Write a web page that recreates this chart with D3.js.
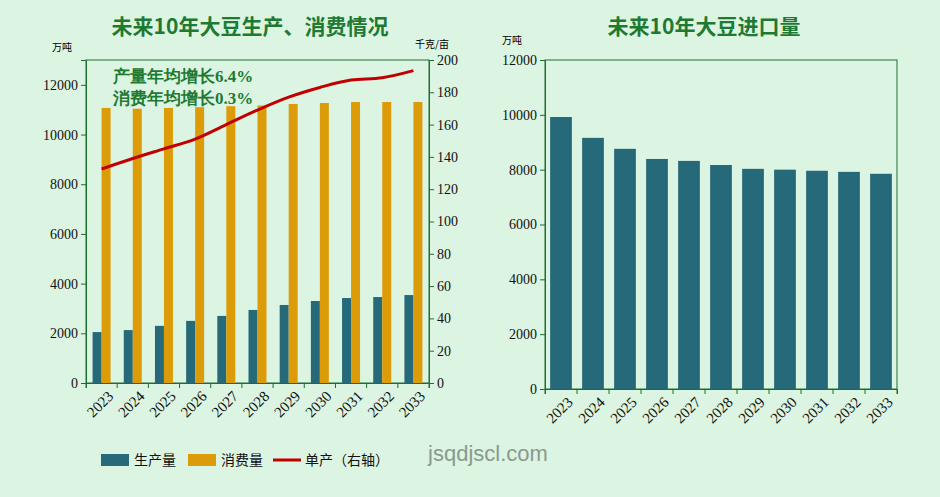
<!DOCTYPE html>
<html><head><meta charset="utf-8">
<script src="https://cdn.jsdelivr.net/npm/d3@7"></script>
<style>body{margin:0;background:#dcf4e2}svg{display:block}</style>
</head><body><svg id="c" width="940" height="497"></svg>
<script>
const years=["2023","2024","2025","2026","2027","2028","2029","2030","2031","2032","2033"];
const production=[2050,2130,2300,2500,2700,2940,3140,3300,3420,3460,3540];
const consumption=[11070,11040,11070,11100,11140,11170,11230,11270,11310,11310,11310];
const yieldPerMu=[132.5,139,145,151,160,169,177,183,187.6,189,193.4];
const imports=[9920,9160,8760,8390,8320,8170,8030,8000,7960,7920,7850];
const leftTicks=[0,2000,4000,6000,8000,10000,12000];
const rightTicks=[0,20,40,60,80,100,120,140,160,180,200];

const svg=d3.select("#c");
svg.append("rect").attr("width",940).attr("height",497).attr("fill","#dcf4e2");
const serif="'Liberation Serif','DejaVu Serif',serif";
const cjk="'Noto Sans CJK SC',sans-serif";
const green="#1e7a32", axisC="#1e6e2e", teal="#266a7a", gold="#dc9c0a", red="#c00000";

function styleAxis(g,fs){g.selectAll("path,line").attr("stroke",axisC);g.selectAll("text").attr("font-family",serif).attr("font-size",fs||14).attr("fill","#111");}

// Left chart
const L={x0:86,x1:429,y0:383,y1:60};
const xL=d3.scaleBand().domain(years).range([L.x0,L.x1]);
const yL=d3.scaleLinear().domain([0,13000]).range([L.y0,L.y1]);
const yR=d3.scaleLinear().domain([0,200]).range([L.y0,L.y1]);
svg.append("rect").attr("x",L.x0).attr("y",L.y1).attr("width",L.x1-L.x0).attr("height",L.y0-L.y1).attr("fill","none").attr("stroke",axisC);
const bw=9;
svg.selectAll(".p").data(years).enter().append("rect").attr("x",d=>xL(d)+xL.bandwidth()/2-bw).attr("width",bw)
 .attr("y",(d,i)=>yL(production[i])).attr("height",(d,i)=>L.y0-yL(production[i])).attr("fill",teal);
svg.selectAll(".c").data(years).enter().append("rect").attr("x",d=>xL(d)+xL.bandwidth()/2).attr("width",bw)
 .attr("y",(d,i)=>yL(consumption[i])).attr("height",(d,i)=>L.y0-yL(consumption[i])).attr("fill",gold);
svg.append("path").datum(yieldPerMu).attr("fill","none").attr("stroke",red).attr("stroke-width",3)
 .attr("d",d3.line().x((d,i)=>xL(years[i])+xL.bandwidth()/2).y(d=>yR(d)).curve(d3.curveMonotoneX));
let g=svg.append("g").attr("transform",`translate(${L.x0},0)`).call(d3.axisLeft(yL).tickValues(leftTicks).tickSize(5).tickFormat(d3.format("d")));styleAxis(g);
g=svg.append("g").attr("transform",`translate(${L.x1},0)`).call(d3.axisRight(yR).tickValues(rightTicks).tickSize(5));styleAxis(g);
g=svg.append("g").attr("transform",`translate(0,${L.y0})`).call(d3.axisBottom(xL).tickSize(5));styleAxis(g,15);
g.selectAll(".tick line").attr("transform",`translate(${-xL.bandwidth()/2},0)`);
g.append("line").attr("x1",L.x1).attr("x2",L.x1).attr("y1",0).attr("y2",5).attr("stroke",axisC);
g.selectAll("text").attr("transform","rotate(-45)").attr("text-anchor","end").attr("dx","-1").attr("dy","11");
svg.append("text").attr("x",62).attr("y",51).attr("font-family",cjk).attr("font-size",10).attr("text-anchor","middle").text("万吨");
svg.append("text").attr("x",432).attr("y",48).attr("font-family",cjk).attr("font-size",10).attr("text-anchor","middle").text("千克/亩");
svg.append("text").attr("x",250).attr("y",34).attr("font-family",cjk).attr("font-weight","bold").attr("font-size",21).attr("fill",green).attr("text-anchor","middle").text("未来10年大豆生产、消费情况");
[["产量年均增长6.4%",82],["消费年均增长0.3%",104]].forEach(t=>svg.append("text").attr("x",113).attr("y",t[1]).attr("font-family",serif).attr("font-weight","bold").attr("font-size",17).attr("fill",green).text(t[0]));

// Right chart
const R={x0:545,x1:897,y0:389,y1:60};
const xB=d3.scaleBand().domain(years).range([R.x0,R.x1]).paddingInner(0.32).paddingOuter(0.16);
const xT=d3.scaleBand().domain(years).range([R.x0,R.x1]);
const yB=d3.scaleLinear().domain([0,12000]).range([R.y0,R.y1]);
svg.append("rect").attr("x",R.x0).attr("y",R.y1).attr("width",R.x1-R.x0).attr("height",R.y0-R.y1).attr("fill","none").attr("stroke",axisC);
svg.selectAll(".i").data(years).enter().append("rect").attr("x",d=>xB(d)).attr("width",xB.bandwidth())
 .attr("y",(d,i)=>yB(imports[i])).attr("height",(d,i)=>R.y0-yB(imports[i])).attr("fill",teal);
g=svg.append("g").attr("transform",`translate(${R.x0},0)`).call(d3.axisLeft(yB).ticks(6).tickSize(5).tickFormat(d3.format("d")));styleAxis(g);
g=svg.append("g").attr("transform",`translate(0,${R.y0})`).call(d3.axisBottom(xT).tickSize(5));styleAxis(g,15);
g.selectAll(".tick line").attr("transform",`translate(${-xT.bandwidth()/2},0)`);
g.append("line").attr("x1",R.x1).attr("x2",R.x1).attr("y1",0).attr("y2",5).attr("stroke",axisC);
g.selectAll("text").attr("transform","rotate(-45)").attr("text-anchor","end").attr("dx","-1").attr("dy","11");
svg.append("text").attr("x",512).attr("y",44).attr("font-family",cjk).attr("font-size",10).attr("text-anchor","middle").text("万吨");
svg.append("text").attr("x",704).attr("y",34).attr("font-family",cjk).attr("font-weight","bold").attr("font-size",21).attr("fill",green).attr("text-anchor","middle").text("未来10年大豆进口量");

// Legend
const lg=svg.append("g").attr("font-family",cjk).attr("font-size",14).attr("fill","#111");
lg.append("rect").attr("x",101).attr("y",454).attr("width",28).attr("height",12).attr("fill",teal);
lg.append("text").attr("x",134).attr("y",465).text("生产量");
lg.append("rect").attr("x",188).attr("y",454).attr("width",28).attr("height",12).attr("fill",gold);
lg.append("text").attr("x",221).attr("y",465).text("消费量");
lg.append("line").attr("x1",273).attr("x2",301).attr("y1",460).attr("y2",460).attr("stroke",red).attr("stroke-width",3);
lg.append("text").attr("x",305).attr("y",465).text("单产（右轴）");
svg.append("text").attr("x",488).attr("y",461).attr("font-family","'Liberation Sans',Arial,sans-serif").attr("font-size",22).attr("fill","#8a9a8e").attr("text-anchor","middle").text("jsqdjscl.com");
</script></body></html>
